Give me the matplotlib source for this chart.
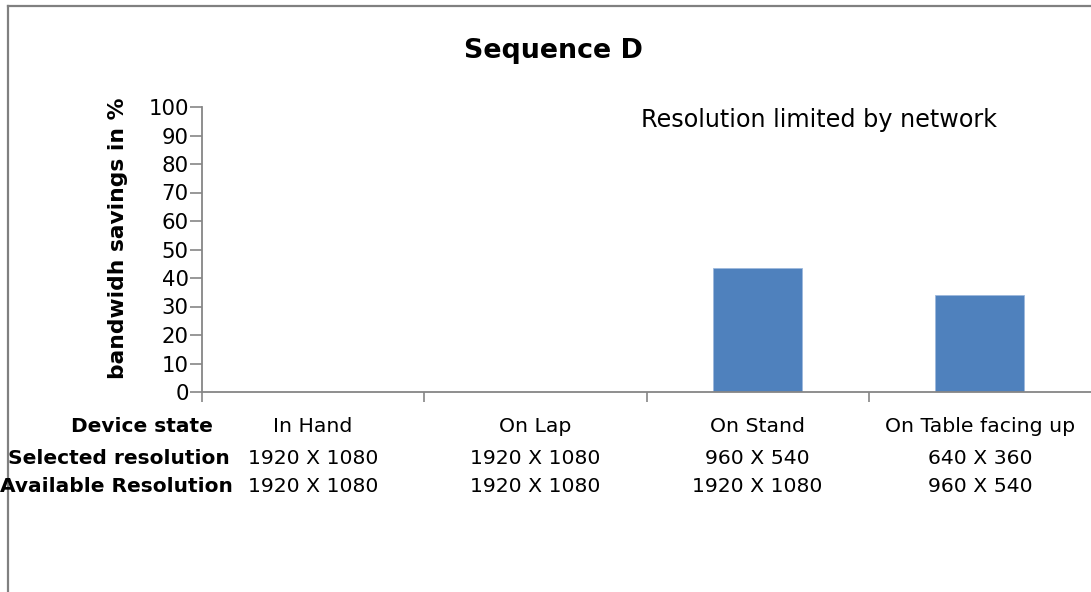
import matplotlib
matplotlib.use("Agg")
import matplotlib.pyplot as plt
from matplotlib.lines import Line2D
from matplotlib.transforms import blended_transform_factory

plt.rcParams['font.family'] = ['DejaVu Sans']

# Data
categories = ["In Hand", "On Lap", "On Stand", "On Table facing up"]
selected_res = ["1920 X 1080", "1920 X 1080", "960 X 540", "640 X 360"]
available_res = ["1920 X 1080", "1920 X 1080", "1920 X 1080", "960 X 540"]
savings = [0, 0, 43.6, 34.2]
row_labels = ["Device state", "Selected resolution", "Available Resolution"]

W, H = 1091, 592
fig = plt.figure(figsize=(W / 100, H / 100), dpi=100)
ax = fig.add_axes([202 / W, 1 - 392 / H, (W - 202) / W, (392 - 107) / H])

gray = "#868686"
x = list(range(len(categories)))
ax.bar(x, savings, width=0.4, color="#4F81BD", edgecolor="#9DB9DC", linewidth=0.6, zorder=2)

ax.set_xlim(-0.5, len(categories) - 0.5)
ax.set_ylim(0, 100)
ax.set_yticks(range(0, 101, 10))
# separators between categories (no tick at the far right end)
ax.set_xticks([i + 0.5 for i in range(-1, len(categories) - 1)])
ax.set_xticklabels([])
ax.tick_params(axis='y', direction='out', length=9, width=1.2, color=gray,
               labelsize=15.3, pad=0.5)
ax.tick_params(axis='x', direction='out', length=7, width=1.2, color=gray)
for s in ("top", "right"):
    ax.spines[s].set_visible(False)
for s in ("left", "bottom"):
    ax.spines[s].set_color(gray)
    ax.spines[s].set_linewidth(1.3)
ax.patch.set_alpha(0)

fig.text(118 / W, 1 - 238 / H, "bandwidh savings in %", fontsize=15.7, fontweight="bold",
         rotation=90, ha="center", va="center")

fig.text(553 / W, 1 - 51 / H, "Sequence D", fontsize=19.4, fontweight="bold",
         ha="center", va="center")
fig.text(819 / W, 1 - 120 / H, "Resolution limited by network", fontsize=17.2,
         ha="center", va="center")

# Category table below the axis
trans = blended_transform_factory(ax.transData, fig.transFigure)
rows = [categories, selected_res, available_res]
row_y = [426, 458, 487]
for vals, yp in zip(rows, row_y):
    for xi, v in zip(x, vals):
        ax.text(xi, 1 - yp / H, v, fontsize=14.7, ha="center", va="center",
                transform=trans, clip_on=False)

label_right = [213, 230, 233]
for lab, yp, xr in zip(row_labels, row_y, label_right):
    fig.text(xr / W, 1 - yp / H, lab, fontsize=14.5, fontweight="bold",
             ha="right", va="center")

# Chart frame
fig.add_artist(Line2D([7.5 / W, 7.5 / W], [0, 1 - 6 / H], color="#808080",
                      linewidth=1.6, transform=fig.transFigure))
fig.add_artist(Line2D([7.5 / W, 1], [1 - 6 / H, 1 - 6 / H], color="#808080",
                      linewidth=1.6, transform=fig.transFigure))

fig.savefig("out.png", dpi=100)
